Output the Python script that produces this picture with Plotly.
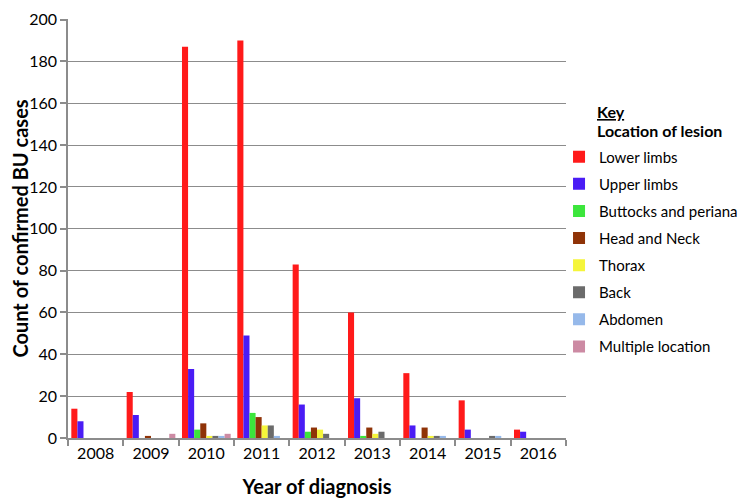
import plotly.graph_objects as go

years = ["2008", "2009", "2010", "2011", "2012", "2013", "2014", "2015", "2016"]
lower_limbs = [14, 22, 187, 190, 83, 60, 31, 18, 4]
upper_limbs = [8, 11, 33, 49, 16, 19, 6, 4, 3]
buttocks = [0, 0, 4, 12, 3, 1, 0, 0, 0]
head_neck = [0, 1, 7, 10, 5, 5, 5, 0, 0]
thorax = [0, 0, 1, 6, 4, 2, 1, 0, 0]
back = [0, 0, 1, 6, 2, 3, 1, 1, 0]
abdomen = [0, 0, 1, 1, 0, 0, 1, 1, 0]
multiple = [0, 2, 2, 0, 0, 0, 0, 0, 0]

series = [
    ("Lower limbs", lower_limbs, "#ff1a1a"),
    ("Upper limbs", upper_limbs, "#4a1cf5"),
    ("Buttocks and periana", buttocks, "#3ce63c"),
    ("Head and Neck", head_neck, "#8f3307"),
    ("Thorax", thorax, "#f5f53a"),
    ("Back", back, "#6b6b6b"),
    ("Abdomen", abdomen, "#96b9ea"),
    ("Multiple location", multiple, "#cc8aa3"),
]

FONT = "Lato, Liberation Sans, sans-serif"

fig = go.Figure()
for i, (name, vals, col) in enumerate(series):
    fig.add_trace(go.Bar(x=years, y=vals, name=name, marker_color=col,
                         marker_line_width=0, legendgroup=str(i)))

fig.update_layout(
    width=742, height=493,
    margin=dict(l=60, r=184, t=11, b=63, autoexpand=False),
    paper_bgcolor="white", plot_bgcolor="white",
    barmode="group", bargap=0.12, bargroupgap=0,
    font=dict(family=FONT, size=16, color="black"),
    showlegend=True,
    legend=dict(x=0.986, xanchor="left", y=0.71, yanchor="top",
                font=dict(family=FONT, size=15, color="black"),
                tracegroupgap=4.6, traceorder="grouped",
                itemwidth=30, bgcolor="rgba(0,0,0,0)"),
    xaxis=dict(
        type="category", showline=True, linecolor="#8c8c8c", linewidth=1.5,
        ticks="outside", tickson="boundaries", ticklen=6, tickcolor="#8c8c8c",
        tickwidth=1.5, automargin=False,
        tickfont=dict(family=FONT, size=16, color="black"),
        title=dict(text="<b>Year of diagnosis</b>", standoff=19,
                   font=dict(family=FONT, size=20, color="black")),
    ),
    yaxis=dict(
        range=[0, 200.3], dtick=20, showline=True, linecolor="#8c8c8c",
        linewidth=1.5, showgrid=True, gridcolor="#8c8c8c", gridwidth=1.2,
        ticks="outside", ticklen=6, tickcolor="#8c8c8c", tickwidth=1.5,
        zeroline=False, ticklabeloverflow="allow", automargin=False,
        tickfont=dict(family=FONT, size=16, color="black"),
        title=dict(text="<b>Count of confirmed BU cases</b>", standoff=5,
                   font=dict(family=FONT, size=20, color="black")),
    ),
    annotations=[
        dict(text="<b><u>Key</u></b>", xref="paper", yref="paper",
             x=1.058, y=0.780, xanchor="left", yanchor="middle",
             showarrow=False, font=dict(family=FONT, size=16, color="black")),
        dict(text="<b>Location of lesion</b>", xref="paper", yref="paper",
             x=1.058, y=0.735, xanchor="left", yanchor="middle",
             showarrow=False, font=dict(family=FONT, size=16, color="black")),
    ],
)

fig.write_html("out.html")
